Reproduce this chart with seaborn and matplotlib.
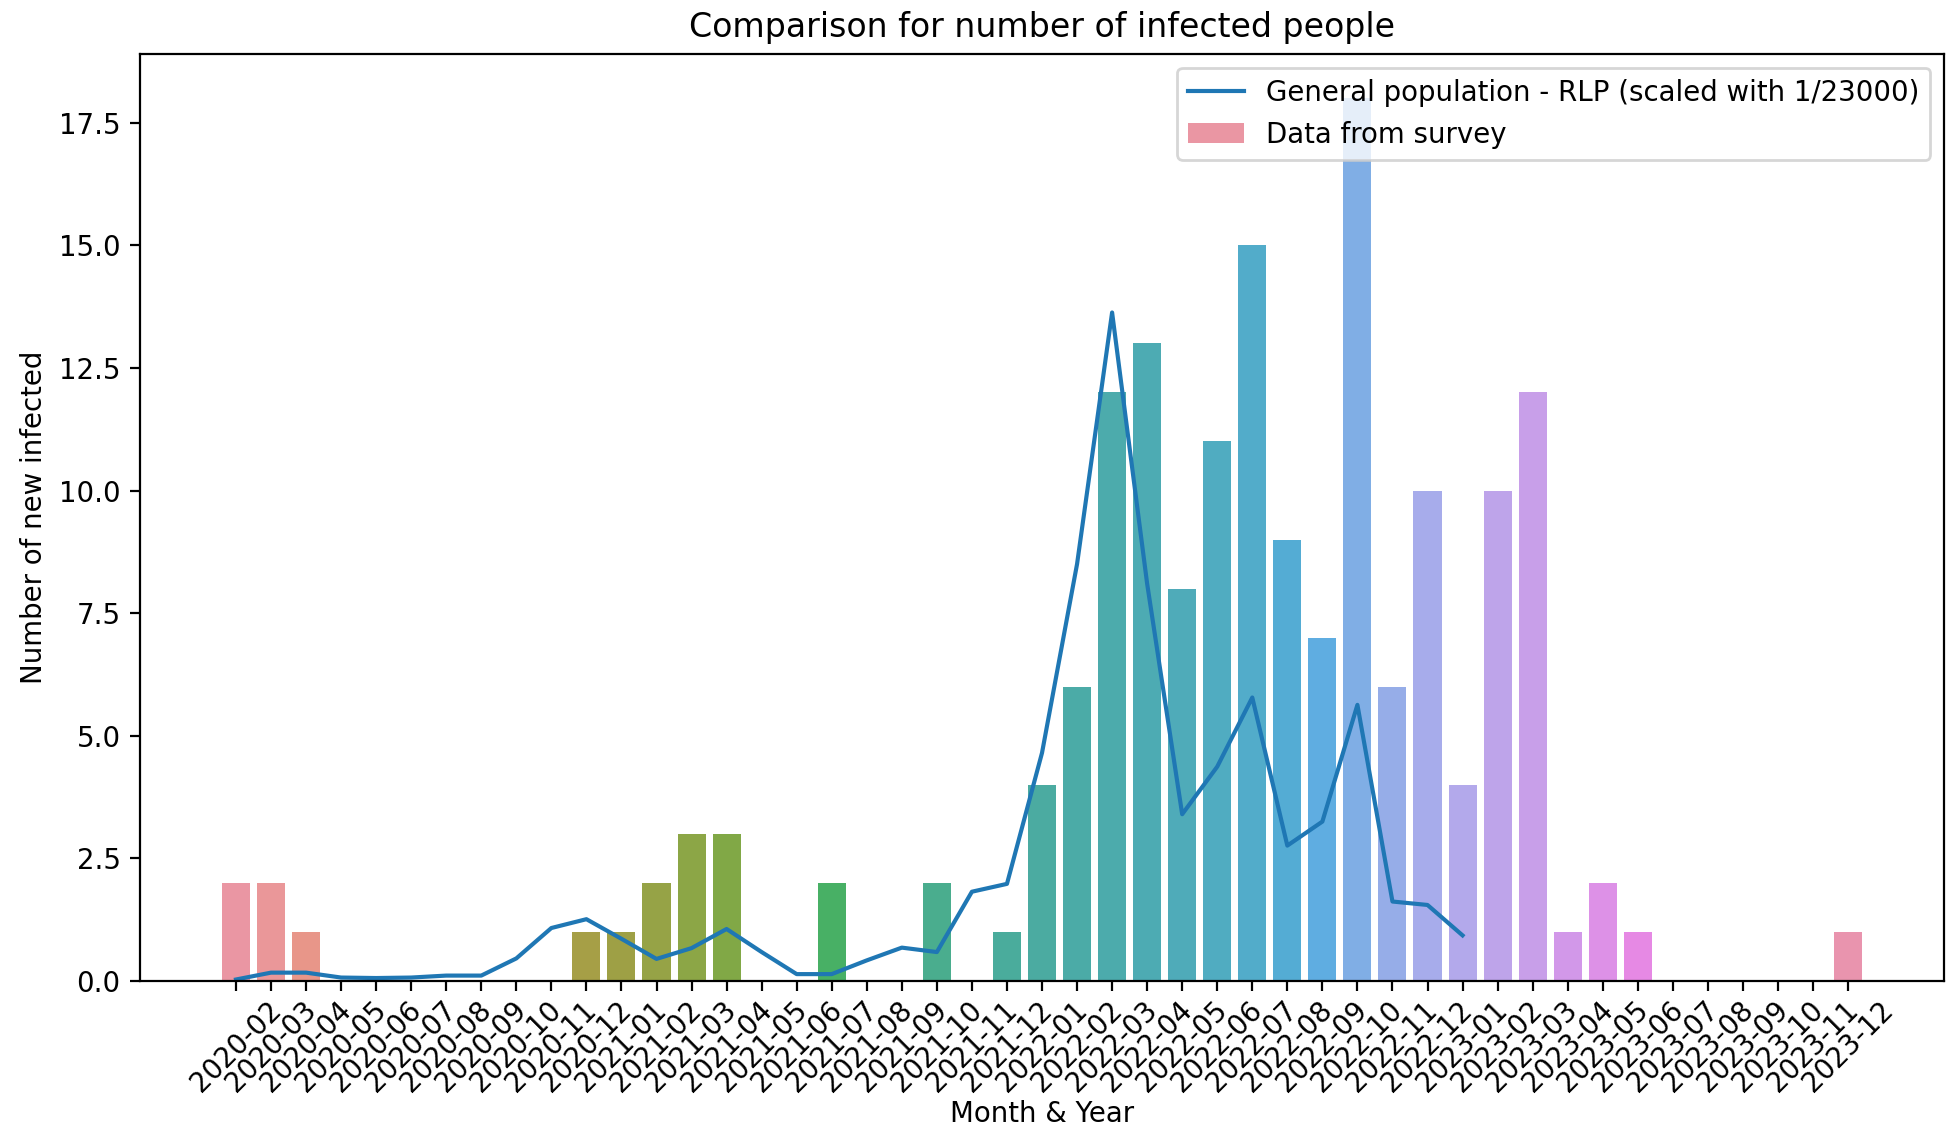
import matplotlib
matplotlib.use("Agg")
import matplotlib.pyplot as plt
import seaborn as sns
import pandas as pd

# Months on the x axis (2020-02 .. 2023-12)
months = [f"{y}-{m:02d}" for y in range(2020, 2024) for m in range(1, 13)][1:]

# Survey counts per month
survey = [2, 2, 1, 0, 0, 0, 0, 0, 0, 0, 1, 1, 2, 3, 3, 0, 0, 2, 0, 0,
          2, 0, 1, 4, 6, 12, 13, 8, 11, 15, 9, 7, 18, 6, 10, 4, 10, 12,
          1, 2, 1, 0, 0, 0, 0, 0, 1]

# General population (RLP), scaled with 1/23000, 2020-02 .. 2023-01
rlp_months = months[:36]
rlp = [0.03, 0.17, 0.17, 0.07, 0.06, 0.07, 0.11, 0.11, 0.46, 1.08, 1.26, 0.86,
       0.45, 0.67, 1.06, 0.59, 0.14, 0.14, 0.42, 0.68, 0.59, 1.82, 1.98, 4.65,
       8.5, 13.63, 8.1, 3.4, 4.37, 5.78, 2.76, 3.25, 5.63, 1.62, 1.55, 0.93]

df_survey = pd.DataFrame({"month": months, "count": survey})
df_rlp = pd.DataFrame({"pos": [months.index(m) for m in rlp_months], "value": rlp})

DPI = 199
fig, ax = plt.subplots(figsize=(1957 / DPI, 1135 / DPI), dpi=DPI)
fig.subplots_adjust(left=0.0715, right=0.9934, top=0.9524, bottom=0.1357)

# Bars, one colour per month
sns.barplot(data=df_survey, x="month", y="count", hue="month",
            palette=sns.husl_palette(len(months), l=.7), legend=False, ax=ax)

# Line for the general population
sns.lineplot(data=df_rlp, x="pos", y="value", color="C0", ax=ax)

ax.autoscale(enable=True, axis="x")
ax.set_xticks(range(len(months)))
ax.set_xticklabels(months, rotation=45)
ax.tick_params(axis="x", pad=2)

ax.set_title("Comparison for number of infected people")
ax.set_xlabel("Month & Year", labelpad=1)
ax.set_ylabel("Number of new infected")

ax.legend(handles=[ax.get_lines()[-1], ax.patches[0]],
          labels=["General population - RLP (scaled with 1/23000)", "Data from survey"],
          loc="upper right")

plt.savefig("out.png", dpi=DPI)
